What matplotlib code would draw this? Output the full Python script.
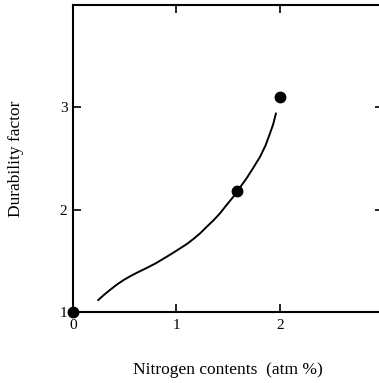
import matplotlib.pyplot as plt

# measured durability factor vs nitrogen content
n_points = [0.0, 1.585, 2.0]
d_points = [1.0, 2.18, 3.10]

# trend curve drawn by hand through the data
n_curve = [0.244, 0.30, 0.357, 0.42, 0.486, 0.55, 0.62, 0.712, 0.80, 0.873,
           0.95, 1.034, 1.10, 1.162, 1.23, 1.292, 1.36, 1.42, 1.48, 1.549,
           1.62, 1.68, 1.74, 1.807, 1.86, 1.903, 1.935, 1.961]
d_curve = [1.117, 1.168, 1.215, 1.265, 1.310, 1.348, 1.385, 1.430, 1.476, 1.520,
           1.567, 1.621, 1.664, 1.712, 1.770, 1.832, 1.898, 1.963, 2.040, 2.125,
           2.225, 2.310, 2.405, 2.515, 2.625, 2.743, 2.835, 2.939]

x_ticks = [0, 1, 2]
y_ticks = [1, 2, 3]

plt.rcParams['font.family'] = ['Liberation Serif', 'DejaVu Serif']

fig = plt.figure(figsize=(3.79, 3.83), dpi=100)
ax = fig.add_axes([0.1926, 0.1854, 0.819, 0.8016])

ax.plot(n_curve, d_curve, 'k-', linewidth=1.4, solid_joinstyle='round')
ax.plot(n_points, d_points, 'ko', markersize=7.5, clip_on=False, zorder=5)

ax.set_xlim(0, 3)
ax.set_ylim(1, 4)
ax.set_xticks(x_ticks)
ax.set_yticks(y_ticks)
ax.tick_params(direction='in', length=6, width=1.2, labelsize=11,
               top=True, right=True)
ax.tick_params(axis='x', pad=5)
ax.tick_params(axis='y', pad=4)
for s in ax.spines.values():
    s.set_linewidth(1.5)

ax.set_xlabel('Nitrogen contents  (atm %)', fontsize=12.5, labelpad=22)
ax.set_ylabel('Durability factor', fontsize=12.5, labelpad=26)

plt.savefig('out.png', dpi=100)
